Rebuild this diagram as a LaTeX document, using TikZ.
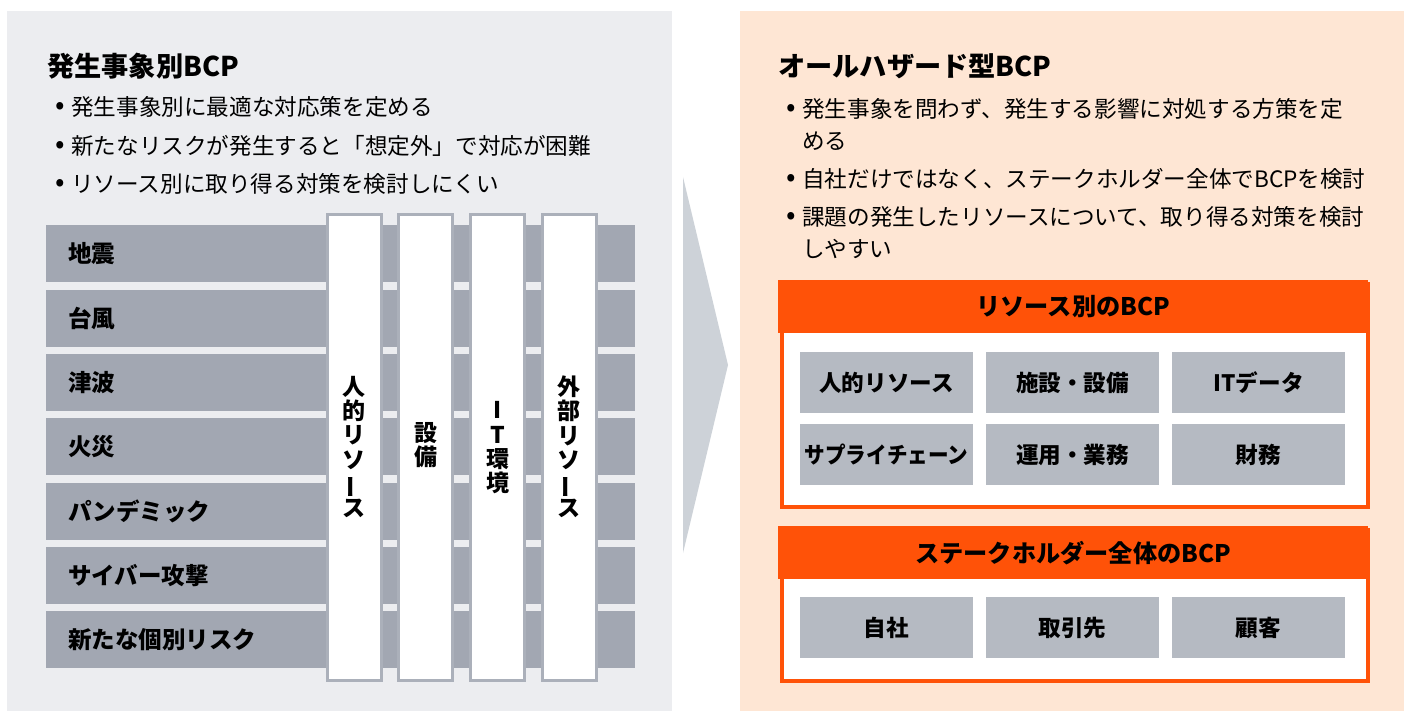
\documentclass[tikz,border=0pt]{standalone}
\usepackage{fontspec}
\setmainfont{Noto Sans CJK JP}
\usepackage{graphicx}
\definecolor{leftbg}{HTML}{ECEDF0}
\definecolor{rightbg}{HTML}{FEE6D4}
\definecolor{rowgray}{HTML}{A2A7B2}
\definecolor{colline}{HTML}{ABB0BA}
\definecolor{arrowgray}{HTML}{CDD2D8}
\definecolor{orng}{HTML}{FF5208}
\definecolor{boxgray}{HTML}{B5BAC2}
\newcommand\vbar{\smash{\rotatebox[origin=c]{90}{ー}}}
\begin{document}
\begin{tikzpicture}[x=1pt,y=-1pt,
  ttl/.style={anchor=west,inner sep=0pt,font=\fontsize{27.2}{30}\selectfont\bfseries},
  bul/.style={anchor=west,inner sep=0pt,font=\fontsize{22.6}{26}\selectfont},
  bdot/.style={inner sep=0pt,font=\fontsize{28}{30}\selectfont},
  rowbar/.style={fill=rowgray,inner sep=0pt,minimum width=589pt,minimum height=57pt,anchor=north west},
  rowlbl/.style={anchor=west,inner sep=0pt,font=\fontsize{23.5}{26}\selectfont\bfseries},
  colbar/.style={fill=white,draw=colline,line width=3pt,inner sep=0pt,minimum width=54pt,minimum height=465pt,anchor=north west},
  coltxt/.style={align=center,inner sep=0pt,font=\fontsize{23}{24.3}\selectfont\bfseries},
  obox/.style={fill=white,draw=orng,line width=4pt,inner sep=0pt,minimum width=586pt,anchor=north west},
  ohead/.style={fill=orng,inner sep=0pt,minimum width=590pt,minimum height=53pt,anchor=north west,font=\fontsize{24.2}{26}\selectfont\bfseries},
  gbox/.style={fill=boxgray,inner sep=0pt,minimum width=173pt,minimum height=61pt,font=\fontsize{22.6}{26}\selectfont\bfseries}
]
\useasboundingbox (0,0) rectangle (1410,711);
\fill[white] (0,0) rectangle (1410,711);
% panels
\fill[leftbg] (7,11) rectangle (672,711);
\fill[rightbg] (740,11) rectangle (1404,711);
% arrow
\fill[arrowgray] (683,177) -- (728,365) -- (683,553) -- cycle;

% left texts
\node[ttl] (lt) at (47,66) {発生事象別BCP};
\node[bdot] (lb1d) at (60,108) {•};
\node[bul] (lb1) at (71,107) {発生事象別に最適な対応策を定める};
\node[bdot] (lb2d) at (60,147) {•};
\node[bul] (lb2) at (71,146) {新たなリスクが発生すると「想定外」で対応が困難};
\node[bdot] (lb3d) at (60,185) {•};
\node[bul] (lb3) at (71,184) {リソース別に取り得る対策を検討しにくい};

% rows
\foreach \i in {0,...,6}{
  \node[rowbar] (row\i) at (46,{225+64.33*\i}) {};
}
% columns
\foreach \i/\x in {1/325.5,2/397.3,3/469,4/540.7}{
  \node[colbar] (col\i) at (\x,213.5) {};
}
\foreach \i/\t in {0/地震,1/台風,2/津波,3/火災,4/パンデミック,5/サイバー攻撃,6/新たな個別リスク}{
  \node[rowlbl] (lbl\i) at (68,{254+64.33*\i}) {\t};
}
\node[coltxt] (ct1) at (col1.center |- 0,447) {人\\的\\リ\\ソ\\\vbar\\ス};
\node[coltxt] (ct2) at (col2.center |- 0,445) {設\\備};
\node[coltxt] (ct3) at (col3.center |- 0,448) {I\\T\\環\\境};
\node[coltxt] (ct4) at (col4.center |- 0,447) {外\\部\\リ\\ソ\\\vbar\\ス};

% right texts
\node[ttl] (rt) at (778,66) {オールハザード型BCP};
\node[bdot] (rb1d) at (791,110) {•};
\node[bul] (rb1) at (802,109) {発生事象を問わず、発生する影響に対処する方策を定};
\node[bul] (rb1b) at (802,141) {める};
\node[bdot] (rb2d) at (791,180) {•};
\node[bul] (rb2) at (802,179) {自社だけではなく、ステークホルダー全体でBCPを検討};
\node[bdot] (rb3d) at (791,218) {•};
\node[bul] (rb3) at (802,217) {課題の発生したリソースについて、取り得る対策を検討};
\node[bul] (rb3b) at (802,249) {しやすい};

% resource box
\node[obox,minimum height=223pt] (resbox) at (780,282) {};
\node[ohead] (reshead) at (778,280) {リソース別のBCP};
\node[gbox] (g1) at (886.5,382.5) {人的リソース};
\node[gbox] (g2) at (1072.5,382.5) {施設・設備};
\node[gbox] (g3) at (1258.5,382.5) {ITデータ};
\node[gbox] (g4) at (886.5,454.5) {\scalebox{0.91}[1]{サプライチェーン}};
\node[gbox] (g5) at (1072.5,454.5) {運用・業務};
\node[gbox] (g6) at (1258.5,454.5) {財務};

% stakeholder box
\node[obox,minimum height=151pt] (stbox) at (780,528) {};
\node[ohead] (sthead) at (778,526) {ステークホルダー全体のBCP};
\node[gbox] (s1) at (886.5,627.5) {自社};
\node[gbox] (s2) at (1072.5,627.5) {取引先};
\node[gbox] (s3) at (1258.5,627.5) {顧客};
\end{tikzpicture}
\end{document}
